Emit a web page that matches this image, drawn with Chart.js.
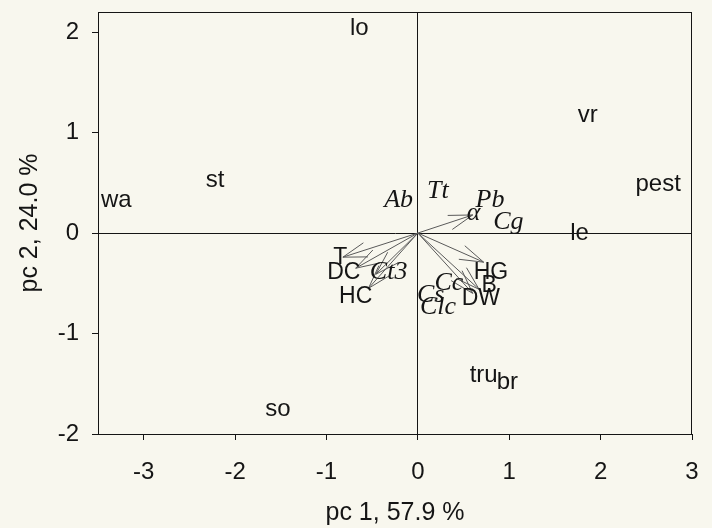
<!DOCTYPE html>
<html>
<head>
<meta charset="utf-8">
<script src="https://cdn.jsdelivr.net/npm/chart.js@4/dist/chart.umd.min.js"></script>
<style>
  html, body { margin: 0; padding: 0; background: #f8f7ee; }
  #wrap { width: 712px; height: 528px; position: relative; }
</style>
</head>
<body>
<div id="wrap"><canvas id="biplot"></canvas></div>
<script>
// sample scores (pc1, pc2)
const sampleNames = ['lo', 'vr', 'pest', 'le', 'wa', 'st', 'so', 'tru', 'br'];
const samplePc1 = [-0.64, 1.86, 2.63, 1.77, -3.30, -2.22, -1.53, 0.72, 0.98];
const samplePc2 = [2.04, 1.17, 0.48, 0.00, 0.33, 0.52, -1.75, -1.42, -1.49];

// variable labels (pc1, pc2); italic ones are set in serif
const varNames = ['T', 'DC', 'Ct3', 'HC', 'HG', 'B', 'DW', 'Cc', 'Cs', 'Clc', 'Ab', 'Tt', 'Pb', 'α', 'Cg'];
const varPc1 = [-0.85, -0.81, -0.32, -0.68, 0.80, 0.78, 0.69, 0.34, 0.14, 0.22, -0.21, 0.22, 0.79, 0.61, 0.99];
const varPc2 = [-0.24, -0.39, -0.39, -0.63, -0.39, -0.52, -0.65, -0.50, -0.62, -0.74, 0.33, 0.42, 0.33, 0.20, 0.11];
const varItalic = [false, false, true, false, false, false, false, true, true, true, true, true, true, true, true];

// loading arrows (tips)
const arrowNames = ['α', 'T', 'DC', 'Ct3', 'HC', 'HG', 'B', 'DW'];
const arrowPc1 = [0.60, -0.82, -0.68, -0.46, -0.54, 0.72, 0.67, 0.60];
const arrowPc2 = [0.18, -0.24, -0.35, -0.41, -0.55, -0.29, -0.56, -0.60];

const xTicks = [-3, -2, -1, 0, 1, 2, 3];
const yTicks = [-2, -1, 0, 1, 2];

const arrowColor = '#5a5a5a';
const ink = '#151515';
const sans = '"Liberation Sans", Arial, sans-serif';

const datasets = arrowNames.map((name, i) => ({
  label: name,
  type: 'line',
  data: [{ x: 0, y: 0 }, { x: arrowPc1[i], y: arrowPc2[i] }],
  borderColor: arrowColor,
  borderWidth: 1,
  pointRadius: 0,
  fill: false,
}));

datasets.push({
  label: 'samples',
  data: sampleNames.map((n, i) => ({ x: samplePc1[i], y: samplePc2[i] })),
  pointRadius: 0,
});

datasets.push({
  label: 'variables',
  data: varNames.map((n, i) => ({ x: varPc1[i], y: varPc2[i] })),
  pointRadius: 0,
});

const bgPlugin = {
  id: 'bg',
  beforeDraw(chart) {
    const ctx = chart.ctx;
    ctx.save();
    ctx.fillStyle = '#f8f7ee';
    ctx.fillRect(0, 0, chart.width, chart.height);
    ctx.restore();
  },
};

const labelPlugin = {
  id: 'labels',
  afterDatasetsDraw(chart) {
    const ctx = chart.ctx;
    const xs = chart.scales.x, ys = chart.scales.y;
    ctx.save();

    // arrow heads
    ctx.strokeStyle = arrowColor;
    ctx.lineWidth = 1;
    arrowNames.forEach((n, i) => {
      const x0 = xs.getPixelForValue(0), y0 = ys.getPixelForValue(0);
      const x1 = xs.getPixelForValue(arrowPc1[i]), y1 = ys.getPixelForValue(arrowPc2[i]);
      const ang = Math.atan2(y1 - y0, x1 - x0);
      const len = 25, spread = 0.3;
      ctx.beginPath();
      ctx.moveTo(x1 - len * Math.cos(ang - spread), y1 - len * Math.sin(ang - spread));
      ctx.lineTo(x1, y1);
      ctx.lineTo(x1 - len * Math.cos(ang + spread), y1 - len * Math.sin(ang + spread));
      ctx.stroke();
    });

    ctx.fillStyle = ink;
    ctx.textAlign = 'center';
    ctx.textBaseline = 'middle';

    ctx.font = '24px ' + sans;
    sampleNames.forEach((n, i) => {
      ctx.fillText(n, xs.getPixelForValue(samplePc1[i]), ys.getPixelForValue(samplePc2[i]));
    });

    varNames.forEach((n, i) => {
      ctx.font = varItalic[i]
        ? 'italic 26px "Liberation Serif", "Times New Roman", serif'
        : '23px ' + sans;
      ctx.fillText(n, xs.getPixelForValue(varPc1[i]), ys.getPixelForValue(varPc2[i]));
    });

    // frame
    const a = chart.chartArea;
    ctx.strokeStyle = ink;
    ctx.lineWidth = 1;
    ctx.strokeRect(a.left + 0.5, a.top + 0.5, a.right - a.left - 1, a.bottom - a.top);
    ctx.restore();
  },
};

function zeroGrid(ctx) {
  return ctx.tick && ctx.tick.value === 0 ? ink : 'rgba(0,0,0,0)';
}

new Chart(document.getElementById('biplot'), {
  type: 'scatter',
  data: { datasets },
  options: {
    responsive: true,
    maintainAspectRatio: false,
    animation: false,
    events: [],
    layout: { padding: { top: 12, right: 20, left: 0, bottom: 0 } },
    plugins: {
      legend: { display: false },
      tooltip: { enabled: false },
    },
    scales: {
      x: {
        type: 'linear',
        min: -3.5,
        max: 3,
        afterBuildTicks: axis => { axis.ticks = xTicks.map(v => ({ value: v })); },
        afterFit: axis => { axis.height = 94; axis.paddingLeft = 0; axis.paddingRight = 0; },
        ticks: {
          color: ink,
          padding: 18,
          font: { family: sans, size: 24 },
        },
        grid: { color: zeroGrid, tickColor: ink, tickLength: 6, lineWidth: 1 },
        border: { display: true, color: ink },
        title: {
          display: true,
          text: 'pc 1, 57.9 %',
          color: ink,
          padding: { top: 0, bottom: 0 },
          font: { family: sans, size: 25 },
        },
      },
      y: {
        type: 'linear',
        min: -2,
        max: 2.2,
        afterBuildTicks: axis => { axis.ticks = yTicks.map(v => ({ value: v })); },
        afterFit: axis => { axis.width = 98; axis.paddingTop = 0; axis.paddingBottom = 0; },
        ticks: {
          color: ink,
          padding: 13,
          font: { family: sans, size: 24 },
        },
        grid: { color: zeroGrid, tickColor: ink, tickLength: 6, lineWidth: 1 },
        border: { display: true, color: ink },
        title: {
          display: true,
          text: 'pc 2, 24.0 %',
          color: ink,
          padding: { top: 15, bottom: 0 },
          font: { family: sans, size: 25 },
        },
      },
    },
  },
  plugins: [bgPlugin, labelPlugin],
});
</script>
</body>
</html>
